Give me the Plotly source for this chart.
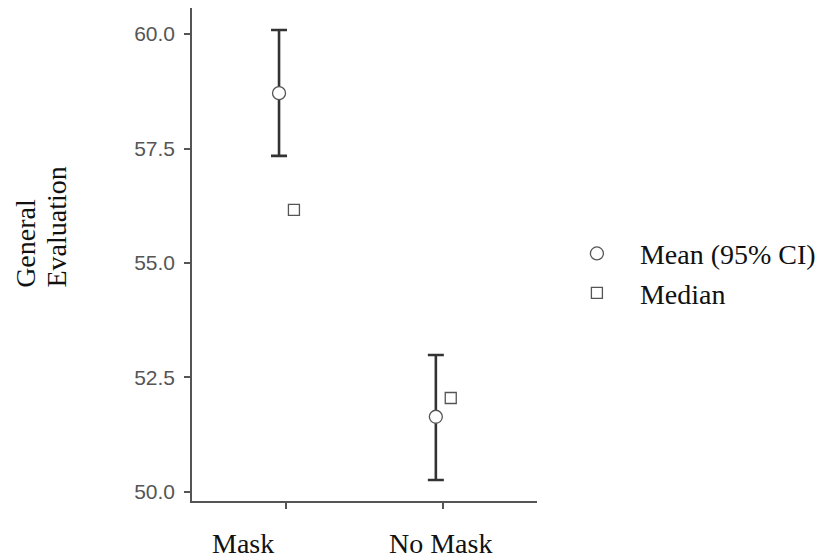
import plotly.graph_objects as go

categories = ["Mask", "No Mask"]
mean_values = [58.71, 51.64]
ci_upper = [60.09, 52.99]
ci_lower = [57.34, 50.26]
median_values = [56.16, 52.05]
y_tick_values = [50.0, 52.5, 55.0, 57.5, 60.0]
y_tick_labels = ["50.0", "52.5", "55.0", "57.5", "60.0"]
y_title_lines = ["General", "Evaluation"]

pos = list(range(len(categories)))
err_plus = [u - m for u, m in zip(ci_upper, mean_values)]
err_minus = [m - l for m, l in zip(mean_values, ci_lower)]

fig = go.Figure()
fig.add_trace(go.Scatter(
    x=[p - 0.045 for p in pos], y=mean_values, mode="markers",
    name="Mean (95% CI)",
    marker=dict(symbol="circle", size=13, color="white",
                line=dict(color="#555555", width=1.3)),
    error_y=dict(type="data", symmetric=False, array=err_plus, arrayminus=err_minus,
                 color="#333333", thickness=2.6, width=8),
))
fig.add_trace(go.Scatter(
    x=[p + 0.05 for p in pos], y=median_values, mode="markers",
    name="Median",
    marker=dict(symbol="square", size=11, color="white",
                line=dict(color="#555555", width=1.3)),
))

serif = "Liberation Serif, Times New Roman, serif"
sans = "Liberation Sans, Arial, Helvetica, sans-serif"

fig.update_layout(
    width=822, height=552,
    margin=dict(l=184, r=293, t=0, b=59),
    plot_bgcolor="white", paper_bgcolor="white",
    showlegend=True,
    legend=dict(x=1.049, y=0.462, xanchor="left", yanchor="middle",
                font=dict(family=serif, size=28, color="#111111"),
                itemwidth=76, bgcolor="rgba(0,0,0,0)"),
    xaxis=dict(range=[-0.6, 1.6], tickvals=pos, ticktext=["", ""],
               showgrid=False, zeroline=False, showline=True,
               linecolor="#555555", linewidth=1.6,
               ticks="outside", ticklen=6, tickcolor="#555555", tickwidth=1.6),
    yaxis=dict(range=[49.80, 60.57], tickvals=y_tick_values, ticktext=y_tick_labels,
               showgrid=False, zeroline=False, showline=True,
               linecolor="#555555", linewidth=1.6,
               ticks="outside", ticklen=6, tickcolor="#555555", tickwidth=1.6,
               ticklabelstandoff=5,
               tickfont=dict(family=sans, size=21, color="#555555")),
)

label_shifts = [-43, -2]
for p, c, s in zip(pos, categories, label_shifts):
    fig.add_annotation(x=p, y=0, xref="x", yref="paper", text=c, showarrow=False,
                       xanchor="center", yanchor="top", yshift=-25, xshift=s,
                       font=dict(family=serif, size=28, color="#111111"))

title_x = [-0.483, -0.394]
for tx, line in zip(title_x, y_title_lines):
    fig.add_annotation(x=tx, y=0.428, xref="paper", yref="paper", text=line,
                       showarrow=False, textangle=-90, xanchor="center", yanchor="bottom",
                       font=dict(family=serif, size=28, color="#111111"))

fig.write_html("out.html")
